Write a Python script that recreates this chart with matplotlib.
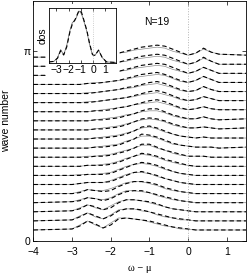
import numpy as np
import matplotlib
matplotlib.use('Agg')
import matplotlib.pyplot as plt
from matplotlib.patches import Rectangle

omega = [-4.0, -3.0, -2.8, -2.6, -2.4, -2.2, -2.0, -1.8, -1.6, -1.4, -1.2,
         -1.0, -0.8, -0.6, -0.4, -0.2, 0.0, 0.2, 0.4, 0.6, 0.8, 1.5]

# vertical offset of each spectrum (wave number axis), bottom to top
k_offset = [0.19, 0.34, 0.49, 0.64, 0.79, 0.94, 1.09, 1.24, 1.39, 1.54,
            1.69, 1.84, 1.99, 2.14, 2.29, 2.44, 2.59, 2.74, 2.89, 3.04]

# spectral weight (arb. units) - dashed curves
A_dash = [
    [0, 1, 4, 9, 6, 2, 5, 11, 12, 11, 10, 9, 7, 5, 3, 2, 1, 0, 0, 0, 0, 0],
    [0, 1, 4, 8, 5, 2, 5, 10, 12, 12, 11, 9, 7, 5, 3, 2, 1, 0, 0, 0, 0, 0],
    [0, 1, 3, 7, 5, 2, 4, 9, 12, 12, 11, 10, 8, 5, 3, 2, 1, 0, 0, 0, 0, 0],
    [0, 1, 2, 5, 4, 2, 4, 8, 11, 12, 12, 10, 8, 6, 4, 2, 1, 0, 0, 0, 0, 0],
    [0, 0, 1, 4, 3, 2, 3, 7, 10, 12, 12, 11, 9, 6, 4, 2, 1, 0, 0, 0, 0, 0],
    [0, 0, 1, 2, 2, 2, 3, 6, 9, 12, 13, 11, 9, 6, 4, 2, 1, 0, 0, 0, 0, 0],
    [0, 0, 0, 1, 1, 1, 2, 5, 8, 11, 13, 12, 10, 7, 4, 2, 1, 0, 0, 0, 0, 0],
    [0, 0, 0, 1, 1, 1, 2, 4, 7, 10, 13, 12, 10, 7, 5, 3, 1, 0, 0, 0, 0, 0],
    [0, 0, 0, 0, 1, 1, 2, 4, 6, 9, 13, 13, 10, 7, 5, 3, 1, 1, 1, 0, 0, 0],
    [0, 0, 0, 0, 1, 1, 2, 3, 6, 9, 14, 13, 11, 8, 5, 3, 2, 1, 1, 1, 0, 1],
    [0, 0, 0, 0, 1, 1, 2, 3, 5, 8, 12, 13, 11, 8, 5, 3, 2, 1, 2, 1, 1, 1],
    [0, 0, 0, 0, 1, 1, 2, 3, 5, 8, 11, 12, 11, 9, 6, 4, 2, 2, 3, 2, 1, 2],
    [0, 0, 0, 0, 1, 1, 2, 3, 5, 7, 10, 12, 12, 9, 6, 4, 2, 2, 4, 2, 1, 2],
    [0, 0, 0, 0, 1, 1, 2, 4, 5, 7, 9, 11, 12, 10, 7, 4, 2, 3, 5, 3, 2, 2],
    [0, 0, 0, 0, 1, 2, 3, 4, 5, 7, 9, 11, 12, 10, 7, 4, 2, 3, 6, 4, 2, 2],
    [0, 0, 0, 0, 1, 2, 3, 4, 6, 7, 9, 11, 12, 10, 7, 4, 2, 3, 7, 4, 2, 2],
    [0, 0, 0, 1, 1, 2, 3, 4, 6, 8, 10, 11, 12, 10, 7, 4, 2, 4, 8, 5, 2, 2],
    [0, 0, 0, 1, 1, 2, 3, 4, 6, 8, 10, 11, 12, 11, 8, 5, 2, 4, 8, 5, 2, 2],
    [0, 0, 0, 1, 1, 2, 3, 4, 6, 8, 10, 11, 12, 11, 8, 5, 2, 4, 9, 5, 2, 2],
    [0, 0, 0, 1, 1, 2, 3, 4, 6, 8, 10, 11, 12, 11, 8, 5, 2, 4, 9, 5, 3, 2],
]

# spectral weight - solid curves
A_solid = [
    [0, 1, 5, 9, 5, 2, 7, 12, 12, 11, 10, 8, 6, 4, 3, 1, 1, 0, 0, 0, 0, 0],
    [0, 1, 5, 8, 4, 2, 6, 11, 12, 12, 10, 9, 6, 4, 3, 1, 1, 0, 0, 0, 0, 0],
    [0, 1, 4, 7, 4, 2, 6, 10, 12, 12, 11, 9, 7, 5, 3, 2, 1, 0, 0, 0, 0, 0],
    [0, 1, 3, 5, 4, 3, 5, 9, 12, 12, 11, 10, 7, 5, 3, 2, 1, 0, 0, 0, 0, 0],
    [0, 0, 2, 4, 3, 3, 5, 8, 11, 12, 12, 10, 8, 5, 3, 2, 1, 0, 0, 0, 0, 0],
    [0, 0, 1, 2, 2, 2, 4, 7, 10, 12, 12, 11, 8, 6, 4, 2, 1, 0, 0, 0, 0, 0],
    [0, 0, 1, 1, 1, 2, 3, 6, 9, 11, 12, 11, 9, 6, 4, 2, 1, 0, 0, 0, 0, 0],
    [0, 0, 0, 1, 1, 2, 3, 5, 8, 10, 12, 11, 9, 6, 4, 2, 1, 0, 0, 0, 0, 0],
    [0, 0, 0, 1, 1, 2, 3, 5, 7, 9, 12, 12, 9, 7, 4, 2, 1, 1, 1, 0, 0, 0],
    [0, 0, 0, 0, 1, 2, 3, 4, 7, 9, 12, 12, 10, 7, 4, 3, 2, 1, 1, 1, 0, 1],
    [0, 0, 0, 0, 1, 2, 3, 4, 6, 8, 11, 12, 10, 7, 5, 3, 2, 1, 2, 1, 1, 1],
    [0, 0, 0, 0, 1, 2, 3, 4, 6, 8, 10, 11, 10, 8, 5, 3, 2, 2, 3, 2, 1, 2],
    [0, 0, 0, 0, 1, 2, 3, 4, 6, 7, 9, 10, 10, 8, 5, 3, 2, 2, 4, 2, 1, 2],
    [0, 0, 0, 0, 1, 2, 3, 4, 5, 7, 8, 9, 10, 8, 6, 3, 2, 3, 5, 3, 2, 2],
    [0, 0, 0, 1, 1, 2, 3, 4, 5, 6, 8, 9, 10, 8, 6, 3, 2, 3, 6, 4, 2, 2],
    [0, 0, 0, 1, 1, 2, 3, 4, 5, 6, 8, 9, 10, 8, 6, 3, 2, 3, 7, 4, 2, 2],
    [0, 0, 0, 1, 2, 2, 3, 4, 5, 7, 8, 9, 10, 9, 6, 3, 2, 4, 8, 5, 2, 2],
    [0, 0, 0, 1, 2, 2, 3, 4, 5, 7, 8, 9, 10, 9, 6, 4, 2, 4, 8, 5, 2, 2],
    [0, 0, 0, 1, 2, 2, 3, 4, 5, 7, 8, 9, 10, 9, 6, 4, 2, 4, 8, 5, 2, 2],
    [0, 0, 0, 1, 2, 2, 3, 4, 5, 7, 8, 9, 10, 9, 6, 4, 2, 4, 8, 5, 3, 2],
]

# density of states for the inset
dos_w = [-3.6, -3.2, -2.9, -2.65, -2.4, -2.15, -1.9, -1.7, -1.45, -1.15,
         -0.95, -0.75, -0.5, -0.3, -0.05, 0.15, 0.45, 0.75, 1.1, 1.85]
dos_solid = [0.02, 0.03, 0.10, 0.25, 0.15, 0.33, 0.60, 0.75, 0.80, 0.97,
             0.92, 0.78, 0.58, 0.36, 0.15, 0.14, 0.24, 0.10, 0.02, 0.01]
dos_dash = [0.02, 0.03, 0.09, 0.23, 0.15, 0.30, 0.57, 0.72, 0.82, 0.98,
            0.95, 0.80, 0.60, 0.38, 0.16, 0.14, 0.24, 0.10, 0.02, 0.01]

xticks = [-4, -3, -2, -1, 0, 1]
dos_xticks = [-3, -2, -1, 0, 1]

amp = np.pi / 190.5   # plotting scale of the spectra

plt.rcParams['font.family'] = ['Liberation Sans', 'DejaVu Sans']
plt.rcParams['font.size'] = 7.5

fig = plt.figure(figsize=(2.49, 2.78), dpi=100)
ax = fig.add_axes([0.1345, 0.1313, 0.8534, 0.8651])
ax.set_zorder(0)

w = np.array(omega)
for k, a_s, a_d in zip(k_offset, A_solid, A_dash):
    ax.plot(w, k + amp * np.array(a_s), color='0.55', lw=0.5)
    ax.plot(w, k + amp * np.array(a_d), color='black', lw=0.8,
            dashes=(4, 2.5))

ax.axvline(0, color='0.7', lw=0.7, ls=':')
ax.text(-0.8, 3.62, 'N=19', ha='center', va='center', fontsize=7.5)

ax.set_xlim(-4, 1.5)
ax.set_ylim(0, 3.966)
ax.set_xticks(xticks)
ax.set_yticks([0, np.pi])
ax.set_yticklabels(['0', 'π'])
ax.tick_params(direction='in', top=True, right=True, length=3, width=0.5)
ax.tick_params(axis='x', pad=4)
ax.tick_params(axis='y', pad=2)
for s in ax.spines.values():
    s.set_linewidth(0.6)
ax.set_xlabel('ω − μ', family=['Liberation Serif', 'DejaVu Serif'],
              labelpad=5)
ax.set_ylabel('wave number', labelpad=9)

# white block behind the inset (hides curves under the inset and its labels)
fig.add_artist(Rectangle((0.1847, 0.7122), 0.2932, 0.2734,
                         transform=fig.transFigure, facecolor='white',
                         edgecolor='none', zorder=1))

ins = fig.add_axes([0.1968, 0.7734, 0.2679, 0.1968])
ins.set_zorder(2)
ins.plot(dos_w, dos_solid, color='0.45', lw=0.6)
ins.plot(dos_w, dos_dash, color='black', lw=0.8, dashes=(4, 2.5))
ins.axvline(0, color='0.75', lw=0.6, ls=':')
ins.set_xlim(-3.6, 1.85)
ins.set_ylim(0, 1.02)
ins.set_xticks(dos_xticks)
ins.set_yticks([])
ins.tick_params(direction='in', top=True, length=2, width=0.5, pad=1.5)
for s in ins.spines.values():
    s.set_linewidth(0.6)
ins.set_ylabel('dos', labelpad=1)

fig.savefig('out.png', dpi=100)
